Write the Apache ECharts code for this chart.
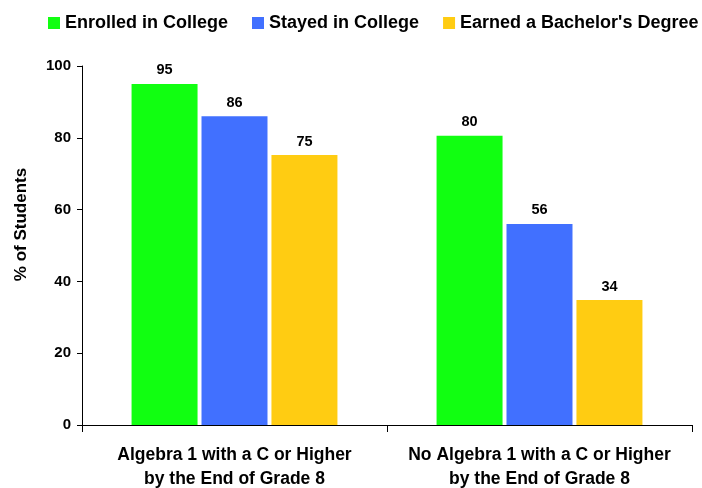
<!DOCTYPE html>
<html>
<head>
<meta charset="utf-8">
<script src="https://cdn.jsdelivr.net/npm/echarts@6/dist/echarts.min.js"></script>
<style>
	html, body {margin: 0; padding: 0; background: #fff;}
	#chart {width: 702px; height: 488px;}
</style>
</head>
<body>
<div id="chart"></div>
<script>
const categories = ['Algebra 1 with a C or Higher\nby the End of Grade 8', 'No Algebra 1 with a C or Higher\nby the End of Grade 8'];
const seriesNames = ['Enrolled in College', 'Stayed in College', "Earned a Bachelor's Degree"];
// bar heights as drawn; labels in the source are truncated to whole numbers
const enrolled = [95, 80.6];
const stayed = [86, 56];
const earned = [75.2, 34.8];
const colors = ['#11ff11', '#4170ff', '#ffcc12'];

const font = 'Liberation Sans, Arial, sans-serif';
const chart = echarts.init(document.getElementById('chart'));

const mkSeries = (name, data, color) => ({
	name: name,
	type: 'bar',
	data: data,
	barGap: '6%',
	barCategoryGap: '32.5%',
	itemStyle: {color: color},
	label: {
		show: true,
		position: 'top',
		distance: 6,
		color: '#000',
		fontFamily: font,
		fontWeight: 'bold',
		fontSize: 14.5,
		formatter: p => String(Math.floor(p.value))
	}
});

chart.setOption({
	animation: false,
	textStyle: {fontFamily: font},
	legend: {
		top: 14,
		left: 48,
		right: 0,
		padding: 0,
		itemWidth: 12,
		itemHeight: 12,
		itemGap: 24,
		icon: 'rect',
		textStyle: {fontSize: 18, fontWeight: 'bold', color: '#000', fontFamily: font},
		data: seriesNames
	},
	grid: {left: 82, top: 66, right: 10, bottom: 63, outerBoundsMode: 'none'},
	xAxis: {
		type: 'category',
		data: categories,
		axisLine: {lineStyle: {color: '#000', width: 1}},
		axisTick: {show: true, length: 7, lineStyle: {color: '#000'}},
		axisLabel: {
			interval: 0,
			color: '#000',
			fontSize: 17.5,
			fontWeight: 'bold',
			fontFamily: font,
			lineHeight: 24,
			margin: 18
		}
	},
	yAxis: {
		type: 'value',
		min: 0,
		max: 100,
		interval: 20,
		name: '% of Students',
		nameLocation: 'middle',
		nameGap: 52,
		nameTextStyle: {fontSize: 17, fontWeight: 'bold', color: '#000', fontFamily: font, padding: [0, 0, 0, 42]},
		axisLine: {show: true, lineStyle: {color: '#000'}},
		axisTick: {show: true, length: 5, lineStyle: {color: '#000'}},
		splitLine: {show: false},
		axisLabel: {color: '#000', fontSize: 15, fontWeight: 'bold', fontFamily: font, margin: 11}
	},
	series: [
		mkSeries(seriesNames[0], enrolled, colors[0]),
		mkSeries(seriesNames[1], stayed, colors[1]),
		mkSeries(seriesNames[2], earned, colors[2])
	]
});
</script>
</body>
</html>
